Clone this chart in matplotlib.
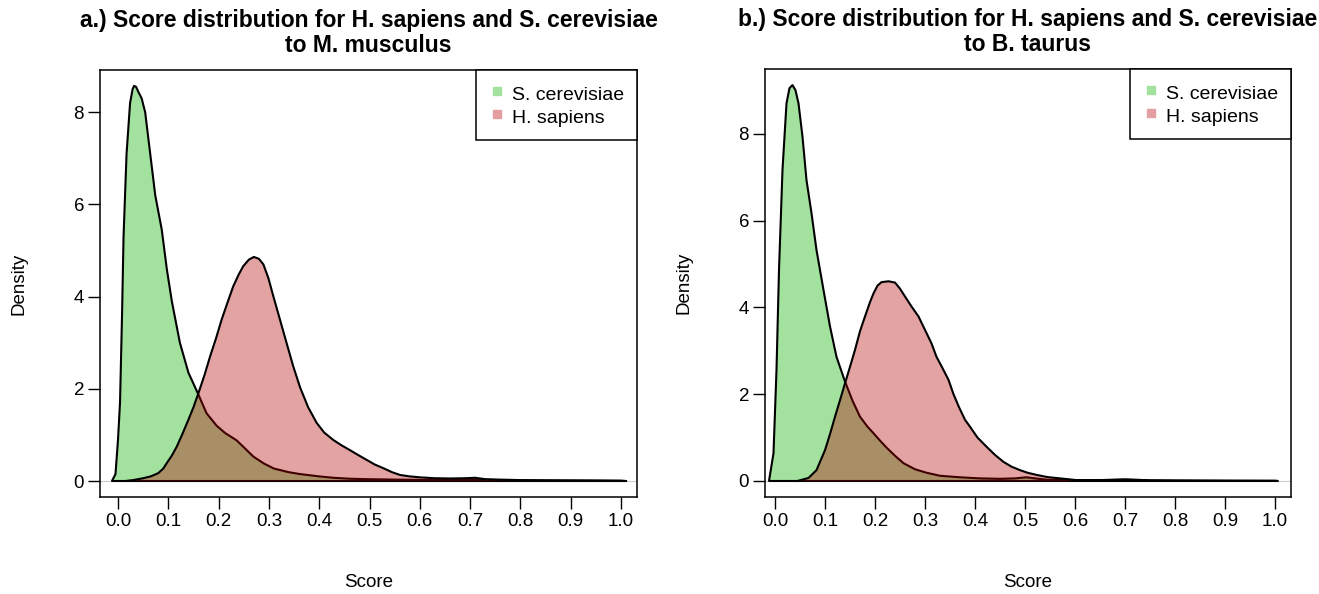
import numpy as np
import matplotlib
matplotlib.use("Agg")
import matplotlib.pyplot as plt
from matplotlib.lines import Line2D

plt.rcParams['font.family'] = ['Liberation Sans', 'DejaVu Sans']

# ---- data (density curves) ----
# panel a: to M. musculus
a_yeast_x = [-0.012, -0.005, 0.0, 0.004, 0.008, 0.011, 0.017, 0.024, 0.029, 0.032, 0.036, 0.04,
             0.047, 0.054, 0.064, 0.074, 0.087, 0.097, 0.107, 0.123, 0.14, 0.158, 0.176, 0.196,
             0.213, 0.236, 0.255, 0.269, 0.29, 0.31, 0.34, 0.362, 0.4, 0.428, 0.46, 0.495, 0.55,
             0.6, 0.65, 0.7, 0.75, 0.8, 0.85, 0.9, 0.95, 1.0, 1.008]
a_yeast_y = [0.0, 0.15, 0.9, 1.7, 3.6, 5.3, 7.1, 8.2, 8.5, 8.57, 8.55, 8.45,
             8.3, 8.0, 7.1, 6.2, 5.45, 4.6, 3.9, 3.0, 2.35, 1.92, 1.47, 1.2,
             1.04, 0.88, 0.68, 0.53, 0.38, 0.27, 0.19, 0.15, 0.1, 0.07, 0.05, 0.04, 0.03,
             0.025, 0.02, 0.03, 0.015, 0.012, 0.01, 0.01, 0.008, 0.005, 0.0]
a_human_x = [0.015, 0.03, 0.05, 0.065, 0.08, 0.09, 0.097, 0.107, 0.117, 0.128, 0.14, 0.15, 0.16,
             0.172, 0.183, 0.195, 0.206, 0.218, 0.229, 0.24, 0.249, 0.26, 0.27, 0.28, 0.289,
             0.299, 0.309, 0.322, 0.335, 0.348, 0.362, 0.378, 0.395, 0.41, 0.428, 0.445, 0.461,
             0.478, 0.494, 0.51, 0.527, 0.545, 0.561, 0.58, 0.6, 0.63, 0.66, 0.69, 0.71, 0.73,
             0.76, 0.8, 0.85, 0.9, 0.95, 1.0, 1.01]
a_human_y = [0.0, 0.02, 0.06, 0.1, 0.17, 0.27, 0.39, 0.55, 0.75, 1.02, 1.33, 1.6, 1.91,
             2.3, 2.7, 3.1, 3.5, 3.88, 4.22, 4.48, 4.66, 4.8, 4.86, 4.82, 4.7,
             4.4, 4.0, 3.5, 3.0, 2.5, 2.03, 1.6, 1.26, 1.05, 0.89, 0.77, 0.67,
             0.56, 0.46, 0.36, 0.28, 0.19, 0.13, 0.1, 0.08, 0.06, 0.055, 0.06, 0.07, 0.04,
             0.03, 0.02, 0.015, 0.01, 0.008, 0.004, 0.0]

# panel b: to B. taurus
b_yeast_x = [-0.012, -0.003, 0.003, 0.008, 0.015, 0.023, 0.029, 0.035, 0.041, 0.047, 0.055, 0.063,
             0.073, 0.083, 0.097, 0.11, 0.123, 0.14, 0.155, 0.17, 0.185, 0.197, 0.21, 0.223,
             0.24, 0.257, 0.28, 0.303, 0.33, 0.37, 0.41, 0.45, 0.48, 0.503, 0.52, 0.543, 0.6,
             0.65, 0.7, 0.75, 0.8, 0.9, 1.0, 1.005]
b_yeast_y = [0.0, 0.64, 2.56, 4.86, 7.17, 8.7, 9.05, 9.12, 9.0, 8.7, 7.93, 6.93,
             6.17, 5.32, 4.4, 3.56, 2.86, 2.29, 1.85, 1.48, 1.25, 1.1, 0.93, 0.77,
             0.58, 0.41, 0.27, 0.19, 0.12, 0.085, 0.06, 0.05, 0.06, 0.085, 0.06, 0.03, 0.02,
             0.02, 0.04, 0.015, 0.01, 0.006, 0.004, 0.0]
b_human_x = [0.045, 0.067, 0.083, 0.1, 0.11, 0.12, 0.13, 0.14, 0.15, 0.16, 0.17, 0.18, 0.19,
             0.197, 0.205, 0.213, 0.227, 0.24, 0.25, 0.26, 0.273, 0.287, 0.3, 0.313, 0.323,
             0.335, 0.347, 0.357, 0.368, 0.38, 0.39, 0.405, 0.423, 0.44, 0.457, 0.473, 0.49,
             0.505, 0.523, 0.545, 0.57, 0.603, 0.65, 0.7, 0.75, 0.8, 0.9, 1.0, 1.005]
b_human_y = [0.0, 0.07, 0.25, 0.71, 1.08, 1.48, 1.86, 2.25, 2.63, 3.02, 3.45, 3.79, 4.12,
             4.32, 4.5, 4.58, 4.6, 4.57, 4.43, 4.25, 4.02, 3.79, 3.48, 3.17, 2.86,
             2.6, 2.33, 2.0, 1.7, 1.41, 1.25, 1.0, 0.79, 0.6, 0.44, 0.33, 0.25,
             0.19, 0.14, 0.09, 0.06, 0.02, 0.015, 0.02, 0.01, 0.008, 0.004, 0.002, 0.0]

titles = ['a.) Score distribution for H. sapiens and S. cerevisiae\nto M. musculus',
          'b.) Score distribution for H. sapiens and S. cerevisiae\nto B. taurus']
labels = ['S. cerevisiae', 'H. sapiens']
x_ticks = np.round(np.arange(0, 1.01, 0.1), 1)
y_ticks = [0, 2, 4, 6, 8]

green_fill = '#a2e19e'
red_fill = (0.706, 0.0, 0.0, 0.36)   # drawn over green -> brown overlap
green_key = '#a2e19e'
red_key = '#e49fa2'

W, H = 1319, 594
fig = plt.figure(figsize=(W / 100, H / 100), dpi=100)

# axes boxes in pixels (left, right, top, bottom) and limits
panels = [
    dict(box=(100, 637, 70, 497), xlim=(-0.0358, 1.0318), ylim=(-0.347, 8.915),
         yx=a_yeast_x, yy=a_yeast_y, hx=a_human_x, hy=a_human_y, title=titles[0]),
    dict(box=(765, 1291, 69, 497), xlim=(-0.02, 1.032), ylim=(-0.369, 9.49),
         yx=b_yeast_x, yy=b_yeast_y, hx=b_human_x, hy=b_human_y, title=titles[1]),
]

for p in panels:
    l, r, t, b = p['box']
    ax = fig.add_axes([l / W, 1 - b / H, (r - l) / W, (b - t) / H])
    ax.axhline(0, color='#cccccc', lw=0.8, zorder=1)
    ax.fill(p['yx'], p['yy'], facecolor=green_fill, edgecolor='black', lw=1.5,
            joinstyle='round', zorder=2)
    ax.fill(p['hx'], p['hy'], facecolor=red_fill, edgecolor='none', zorder=3)
    ax.plot(p['hx'], p['hy'], color='black', lw=1.5, solid_joinstyle='round', zorder=4)
    ax.set_xlim(p['xlim'])
    ax.set_ylim(p['ylim'])
    ax.set_xticks(x_ticks)
    ax.set_xticklabels([f'{v:.1f}' for v in x_ticks])
    ax.set_yticks(y_ticks)
    ax.tick_params(axis='both', direction='out', length=8.5, width=1.0, labelsize=13.5, pad=3)
    for s in ax.spines.values():
        s.set_linewidth(1.1)
    ax.set_xlabel('Score', fontsize=13.5, labelpad=32)
    ax.set_ylabel('Density', fontsize=13.5, labelpad=33)
    ax.set_title(p['title'], fontsize=16.5, fontweight='bold', pad=13, linespacing=1.12)
    handles = [Line2D([], [], ls='none', marker='s', markersize=6, color=green_key),
               Line2D([], [], ls='none', marker='s', markersize=6, color=red_key)]
    leg = ax.legend(handles, labels, loc='upper right', bbox_to_anchor=(1, 1),
                    borderaxespad=0, fancybox=False, fontsize=14, handlelength=0.9,
                    handleheight=1.45, handletextpad=0.35, borderpad=0.64,
                    labelspacing=-0.05, framealpha=1)
    leg.get_frame().set_edgecolor('black')
    leg.get_frame().set_linewidth(1.1)

fig.savefig('out.png', dpi=100)
